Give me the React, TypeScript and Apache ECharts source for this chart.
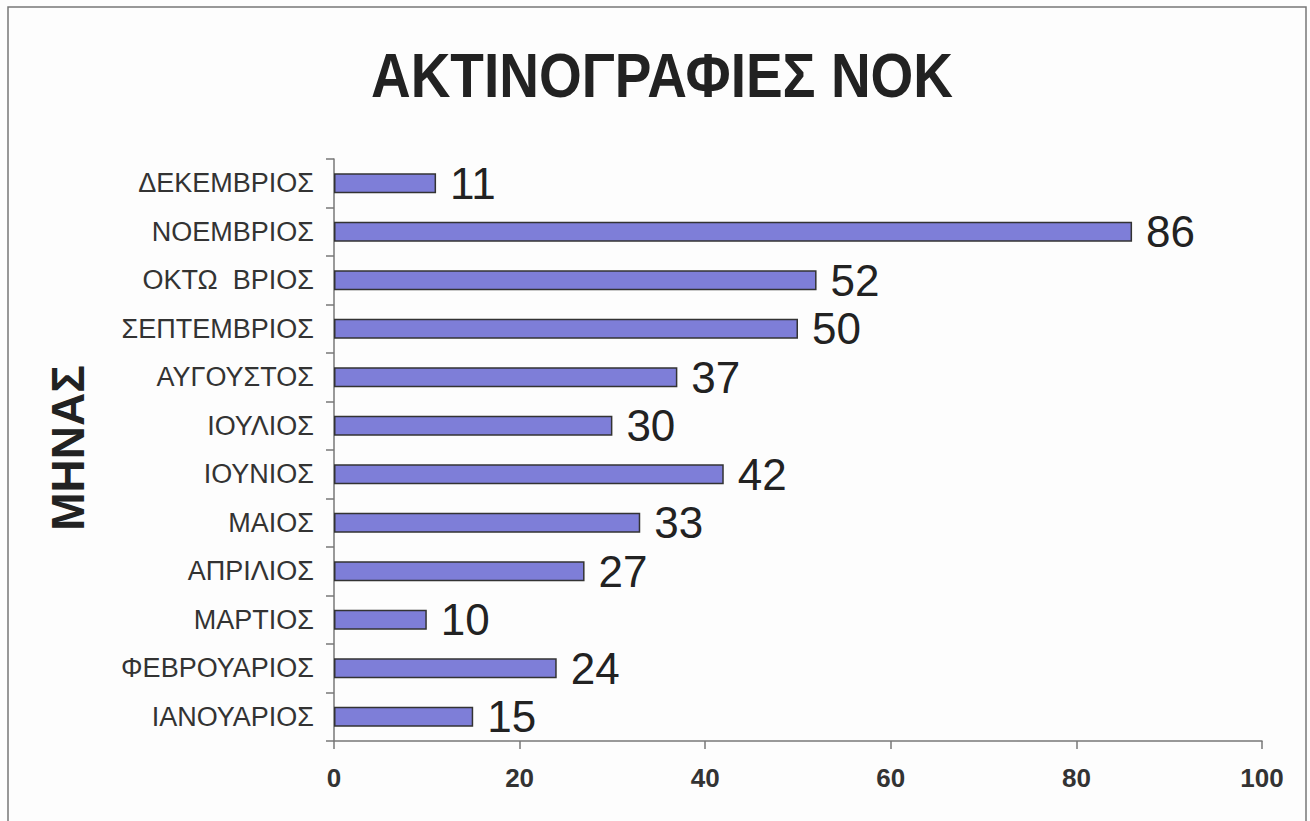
import React, { useEffect, useRef } from "react";
import * as echarts from "echarts";

const months = [
  "ΙΑΝΟΥΑΡΙΟΣ",
  "ΦΕΒΡΟΥΑΡΙΟΣ",
  "ΜΑΡΤΙΟΣ",
  "ΑΠΡΙΛΙΟΣ",
  "ΜΑΙΟΣ",
  "ΙΟΥΝΙΟΣ",
  "ΙΟΥΛΙΟΣ",
  "ΑΥΓΟΥΣΤΟΣ",
  "ΣΕΠΤΕΜΒΡΙΟΣ",
  "ΟΚΤΩ  ΒΡΙΟΣ",
  "ΝΟΕΜΒΡΙΟΣ",
  "ΔΕΚΕΜΒΡΙΟΣ",
];
const xrays = [15, 24, 10, 27, 33, 42, 30, 37, 50, 52, 86, 11];
const titleText = "ΑΚΤΙΝΟΓΡΑΦΙΕΣ ΝΟΚ";
const yAxisTitle = "ΜΗΝΑΣ";

const FONT = "'Liberation Sans', Arial, sans-serif";

export default function App() {
  const ref = useRef<HTMLDivElement>(null);
  useEffect(() => {
    if (!ref.current) return;
    const chart = echarts.init(ref.current, null, { renderer: "svg" });
    chart.setOption({
      animation: false,
      backgroundColor: "#fdfdfd",
      graphic: [
        {
          type: "rect",
          shape: { x: 8, y: 7, width: 1298, height: 840 },
          style: { fill: "none", stroke: "#777", lineWidth: 1.5 },
          silent: true,
        },
        {
          type: "text",
          x: 662,
          y: 75,
          scaleY: 1.15,
          style: {
            text: titleText,
            fontFamily: FONT,
            fontSize: 55,
            fontWeight: "bold",
            fill: "#222",
            align: "center",
            verticalAlign: "middle",
          },
        },
        {
          type: "text",
          x: 68,
          y: 448,
          rotation: Math.PI / 2,
          style: {
            text: yAxisTitle,
            fontFamily: FONT,
            fontSize: 46,
            fontWeight: "bold",
            fill: "#222",
            align: "center",
            verticalAlign: "middle",
          },
        },
      ],
      grid: { left: 334, right: 48, top: 159, bottom: 80, containLabel: false },
      xAxis: {
        type: "value",
        min: 0,
        max: 100,
        interval: 20,
        splitLine: { show: false },
        axisLine: { show: true, lineStyle: { color: "#777", width: 1.5 } },
        axisTick: { show: true, length: 8, lineStyle: { color: "#777", width: 1.5 } },
        axisLabel: { margin: 24, fontFamily: FONT, fontSize: 26, color: "#333", fontWeight: "bold" },
      },
      yAxis: {
        type: "category",
        data: months,
        axisLine: { show: true, lineStyle: { color: "#777", width: 1.5 } },
        axisTick: { show: true, length: 8, alignWithLabel: false, lineStyle: { color: "#777", width: 1.5 } },
        axisLabel: { margin: 20, fontFamily: FONT, fontSize: 27, color: "#333" },
      },
      series: [
        {
          type: "bar",
          data: xrays,
          barWidth: 20,
          itemStyle: { color: "#7e7ed8", borderColor: "#333", borderWidth: 1.5 },
          label: {
            show: true,
            position: "right",
            distance: 14,
            fontFamily: FONT,
            fontSize: 44,
            color: "#222",
          },
        },
      ],
    });
    return () => chart.dispose();
  }, []);
  return (
    <div
      ref={ref}
      style={{ position: "fixed", left: 0, top: 0, width: 1310, height: 821 }}
    />
  );
}
